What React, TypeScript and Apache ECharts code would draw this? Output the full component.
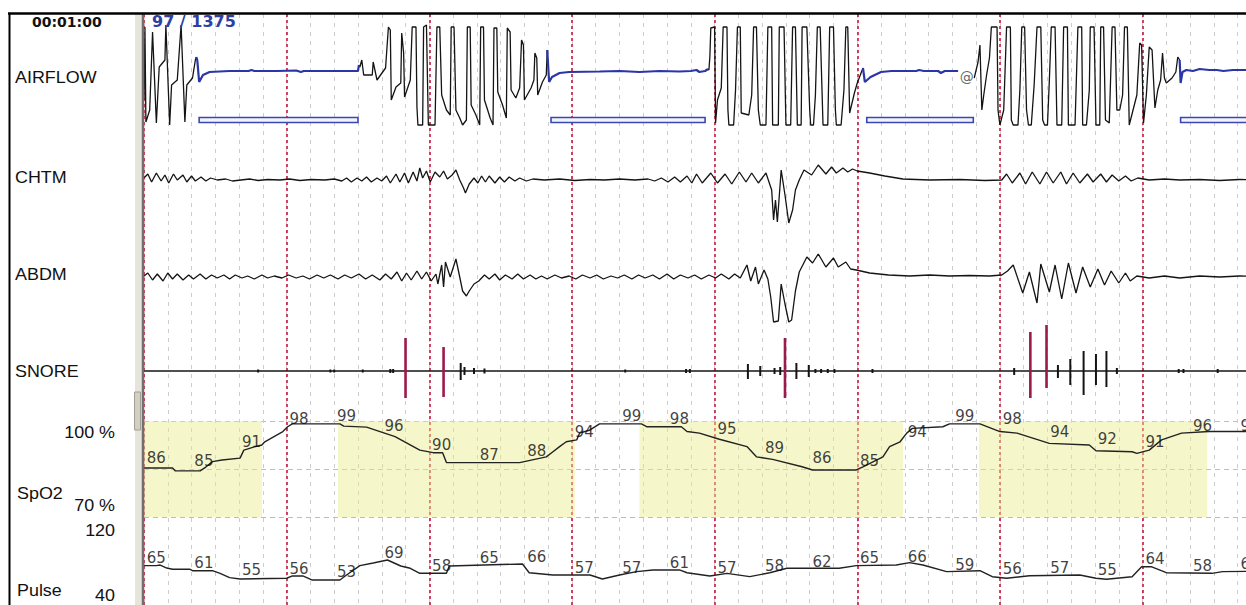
import { useEffect, useRef } from "react";
import * as echarts from "echarts";

// ---------- time base: samples at 5 Hz (0.2 s), 150 samples = one 30 s epoch ----------
const X_END = 1184;
const EPOCH_SAMPLES = 150;
const MINOR_SAMPLES = 25;

// ---------- AIRFLOW (flow units, up = positive) ----------
const airflowBreathA = [[0,-28],[1,45],[2,-50],[6,-38],[9,40],[13,-51],[16,5],[22,12],[23,47],[27,-53],[29,-13],[35,-8],[39,47],[43,-50],[45,-13],[51,-6],[54,12],[55,15]];
const airflowBreathB = [[226,7],[227,5],[229,12],[231,-3],[240,-3],[241,10],[245,-8],[254,4],[257,45],[259,42],[260,-28],[265,-15],[270,-11],[271,39],[273,19],[274,-25],[280,-8],[282,45],[286,45],[287,-35],[288,-53],[293,-53],[294,45],[297,47],[299,-53],[306,-53],[308,45],[311,45],[313,-23],[318,-38],[322,-43],[323,45],[326,45],[328,-38],[332,-46],[335,-53],[339,-48],[340,45],[343,45],[344,-33],[349,-43],[353,-53],[354,45],[357,45],[358,-28],[364,-46],[367,-53],[368,44],[371,44],[372,-20],[377,-33],[381,-46],[382,44],[385,40],[386,-18],[391,-26],[395,-16],[397,32],[399,27],[400,-28],[407,-16],[410,-8],[411,19],[413,14],[414,-23],[419,-10],[423,-3],[424,22]];
const airflowBreathC = [[593,3],[594,2],[595,15],[596,44],[600,45],[601,-51],[603,-28],[607,-16],[609,45],[613,45],[614,-38],[615,-53],[620,-53],[622,-18],[624,45],[627,45],[628,-41],[636,-43],[639,-23],[641,45],[644,45],[646,-38],[648,-53],[654,-53],[656,45],[660,45],[661,-53],[667,-53],[668,45],[673,45],[675,-53],[680,-53],[682,45],[685,45],[687,-53],[691,-53],[692,45],[697,45],[700,-38],[701,-53],[704,-53],[706,-23],[708,45],[711,45],[714,-53],[719,-53],[721,45],[725,45],[727,-38],[728,-53],[733,-53],[736,-18],[738,45],[740,45],[742,-41],[747,-21],[750,-11],[756,4]];
const airflowBreathD = [[873,-6],[877,10],[879,27],[881,-38],[883,-23],[886,-3],[889,14],[891,45],[897,45],[898,-38],[900,-53],[904,-38],[907,45],[911,45],[912,-48],[914,-53],[919,-53],[921,-18],[923,45],[926,45],[928,-38],[930,-53],[933,-53],[936,-13],[939,45],[943,45],[945,-48],[947,-53],[950,-53],[952,-8],[954,45],[958,45],[960,-53],[965,-53],[967,45],[971,45],[972,-53],[979,-53],[982,45],[986,45],[987,-53],[991,-53],[994,-18],[995,45],[999,45],[1001,-53],[1005,-53],[1006,45],[1009,45],[1011,-48],[1015,-51],[1018,45],[1021,45],[1023,-38],[1026,-38],[1029,-23],[1031,45],[1034,45],[1036,-53],[1040,-38],[1044,-23],[1047,29],[1049,27],[1051,-51],[1054,-23],[1057,25],[1060,22],[1063,-36],[1066,-18],[1069,-8],[1071,19],[1073,-6],[1075,-11],[1081,-6],[1085,0],[1087,15],[1089,12]];
const airflowApnea1 = [[55,15],[56,12],[58,-10],[62,-3],[69,0],[90,1],[110,1],[113,2],[116,1],[140,1],[160,1.5],[165,0],[168,1],[190,1],[210,1],[225,1],[226,7]];
const airflowApnea2 = [[424,22],[426,-10],[429,-5],[437,-1],[447,0],[479,0.5],[500,1],[521,0],[542,1],[563,0.5],[575,1],[581,2],[584,0],[590,1],[593,3]];
const airflowApnea3 = [[756,4],[758,-10],[764,-5],[775,0],[786,1],[812,1],[815,2],[820,1],[835,1],[838,-1],[842,1],[856,1]];
const airflowApnea4 = [[1089,12],[1090,-11],[1092,0],[1096,2],[1103,1],[1110,3],[1120,2],[1128,2],[1135,1],[1145,2],[1160,2],[1184,2]];
const apneaEvents = [[58,225],[428,590],[760,872],[1090,1184]];
const apneaEventLevel = [-45.5, -50.5];
const artifactMarks = [[865,-5]];

// ---------- CHTM / ABDM effort ----------
const chtm = [[0,2],[4,6],[8,-2],[13,7],[18,-1],[22,5],[26,-3],[31,6],[35,0],[41,5],[45,-2],[50,4],[54,-1],[60,3],[65,-1],[70,2],[77,0],[86,1],[93,-1],[102,0],[111,1],[120,-0.5],[130,0.5],[143,0],[153,1],[164,-0.5],[176,0.5],[190,0],[200,1],[208,-1],[213,2],[218,-2],[224,2],[229,-1],[234,3],[239,-2],[245,2],[250,-1],[255,4],[259,-3],[265,6],[269,-2],[274,7],[278,-3],[283,8],[287,-1],[290,12],[293,2],[297,9],[301,-2],[306,8],[311,3],[315,9],[319,1],[324,5],[328,10],[332,0],[336,-8],[338,-13],[342,-4],[347,2],[351,-3],[355,4],[359,-2],[363,4],[369,-3],[374,3],[379,-2],[384,3],[390,-1],[395,2],[402,-1],[409,1],[421,0],[437,1],[453,-0.5],[469,0.5],[484,0],[500,1],[516,0],[530,1],[537,-1],[544,2],[551,-2],[558,3],[564,-2],[571,4],[576,-3],[581,6],[587,-3],[596,7],[603,-3],[611,6],[618,-4],[626,8],[633,-2],[639,7],[646,-3],[654,7],[660,-10],[662,-40],[664,-20],[666,-42],[670,10],[674,-15],[678,-43],[682,-30],[685,-10],[689,0],[694,10],[702,5],[709,15],[717,6],[723,13],[728,7],[735,12],[740,8],[745,11],[750,9],[763,7],[779,4],[798,1],[826,0],[858,0.5],[884,-0.5],[902,0],[907,6],[913,-3],[921,7],[927,-4],[934,8],[942,-4],[949,8],[956,-3],[964,8],[970,-4],[977,7],[984,-3],[992,6],[998,-2],[1006,6],[1012,-2],[1018,5],[1025,-1],[1032,4],[1038,-1],[1045,2],[1057,0],[1073,1],[1089,0],[1110,0.5],[1131,-0.5],[1152,0.5],[1184,0]];
const abdm = [[0,1],[4,4],[9,-3],[14,3],[20,-4],[25,4],[30,-2],[35,3],[41,-3],[47,2],[52,-2],[59,3],[65,-2],[71,2],[77,-1],[84,2],[90,-2],[96,2],[103,-1],[109,1],[116,-2],[124,2],[130,-1],[137,1],[145,-1],[152,2],[160,-1],[167,1],[174,-2],[182,2],[189,-1],[196,2],[204,-2],[211,2],[218,-1],[226,3],[233,-2],[240,2],[248,-3],[254,3],[260,-2],[266,5],[271,-4],[276,4],[281,-3],[287,6],[292,-2],[297,5],[302,-4],[307,3],[309,-7],[313,12],[315,-10],[317,15],[322,0],[328,18],[332,0],[335,-14],[339,-19],[342,-14],[347,-7],[352,-4],[358,2],[363,-2],[369,3],[374,-3],[380,2],[387,-2],[393,3],[399,-2],[406,2],[412,-2],[418,1],[424,-2],[432,2],[439,-1],[447,1],[454,-2],[461,2],[469,-1],[476,2],[483,-2],[491,1],[498,-1],[505,2],[513,-2],[520,2],[527,-1],[535,2],[542,-2],[550,3],[557,-2],[564,2],[572,-1],[579,2],[586,-2],[594,2],[601,-1],[607,3],[615,-2],[621,3],[627,-1],[634,12],[638,-4],[643,10],[646,-7],[652,7],[656,-2],[659,-20],[662,-45],[667,-44],[670,-7],[674,-27],[678,-45],[681,-43],[685,-14],[689,5],[697,20],[703,14],[709,23],[717,10],[725,19],[730,10],[738,15],[743,8],[749,7],[763,4],[783,2],[805,1],[826,2],[847,1],[868,1.5],[889,1],[902,2],[908,6],[914,12],[924,-16],[931,5],[939,-26],[943,13],[952,-15],[958,12],[965,-22],[972,14],[980,-16],[987,10],[995,-10],[1003,8],[1010,-8],[1017,6],[1025,-6],[1032,4],[1037,-4],[1044,1],[1057,-1],[1073,1],[1089,-1],[1110,1],[1131,0],[1152,1],[1184,0]];

// ---------- SNORE bursts: [sample, low, high] ----------
const snoreBursts = [[120,-1.5,1.5],[196,-1.5,1.5],[200,-1.5,1.5],[230,-1.5,1.5],[259,-2,2],[262,-2,2],[333,-9,8],[337,-4,4],[347,-3,3],[358,-2.5,2.5],[506,-1.5,1.5],[570,-2,2],[574,-2,2],[635,-8,7],[648,-5,5],[663,-3,3],[669,-4,4],[686,-8,8],[699,-6,6],[706,-2,2],[712,-2,2],[719,-2,2],[726,-2,2],[766,-2,2],[915,-4,3],[961,-7,6],[974,-14,12],[988,-24,20],[1001,-14,17],[1012,-16,20],[1023,-3,3],[1088,-2,2],[1093,-2,2],[1129,-2,2]];
const snoreArousals = [[275,-27,33],[315,-26,24],[674,-27,33],[932,-27,39],[949,-17,46]];

// ---------- SpO2 (%) ----------
const spo2 = [[0,85.3],[30,85.3],[33,84.4],[59,84.4],[65,85.6],[72,87.3],[82,87.8],[101,88.4],[105,90.9],[116,91.9],[124,92.5],[127,93.5],[146,96.7],[151,98.2],[156,99.1],[206,99.1],[210,98.4],[234,98.1],[264,95.1],[290,90.9],[304,90.1],[314,90.1],[318,87],[395,87],[423,88.8],[430,90.4],[437,92],[444,93.5],[455,94.1],[458,96.2],[469,97.2],[479,99.1],[523,99.1],[529,98.2],[565,98.2],[571,96.7],[584,96.2],[605,94.3],[634,92],[644,88.8],[661,88],[692,85.7],[703,84.7],[749,84.7],[756,85.7],[777,88.8],[784,92],[795,93.5],[802,96.2],[808,97.7],[840,98.2],[847,99.1],[879,99.1],[900,96.7],[918,96.2],[952,93],[994,92.5],[1001,90.7],[1039,90.4],[1044,89.9],[1057,90.9],[1070,94.1],[1091,96.2],[1120,96.7],[1184,96.7]];
const desatEvents = [[0,124],[204,453],[521,798],[878,1118]];

// ---------- Pulse (bpm) ----------
const pulse = [[0,65.3],[13,65.3],[17,65.8],[24,63.3],[30,62.3],[48,62.3],[51,61.1],[72,61.1],[80,58.9],[90,55.3],[101,54.2],[150,54.8],[156,56.7],[167,56.7],[177,53.3],[206,53.3],[213,57.5],[227,65.3],[241,67.5],[256,70],[270,65],[280,63.1],[290,58.9],[318,58.9],[321,65],[398,66.7],[405,59.4],[430,57.5],[469,57.5],[482,54.2],[500,57.5],[518,60.3],[535,61.7],[563,61.7],[571,59.4],[595,56.7],[613,58.9],[637,56.1],[658,59.4],[676,63.1],[731,63.1],[749,65.3],[791,65.8],[805,67.8],[819,65.8],[844,60.3],[879,61.1],[892,56.1],[907,54.8],[931,56.9],[984,57.5],[1001,54.8],[1012,53.9],[1039,56.1],[1049,64.4],[1059,64.4],[1075,59.4],[1123,58.9],[1134,60.3],[1184,60.8]];

// ---------- value annotations every 10 s ----------
const annotationTimes = [13,63,113,163,213,263,313,363,413,463,513,563,613,663,713,763,813,863,913,963,1013,1063,1113,1163];
const spo2Annotations = [86,85,91,98,99,96,90,87,88,94,99,98,95,89,86,85,94,99,98,94,92,91,96,96];
const pulseAnnotations = [65,61,55,56,53,69,58,65,66,57,57,61,57,58,62,65,66,59,56,57,55,64,58,60];

// ---------- styling ----------
const LABEL_FONT = '"Liberation Sans", Arial, sans-serif';
const TRACE = "#141414";
const BLUE = "#2a36a6";
const MAROON = "#9c1a4a";

export default function App() {
  const ref = useRef<HTMLDivElement>(null);

  useEffect(() => {
    if (!ref.current) return;
    const chart = echarts.init(ref.current, undefined, { renderer: "svg" });

    const gridBox = (top: number, height: number) => ({ left: 144, top, width: 1126, height });
    const hiddenX = (gridIndex: number) => ({ gridIndex, type: "value", min: 0, max: X_END, show: false });
    const hiddenY = (gridIndex: number, min: number, max: number) => ({ gridIndex, type: "value", min, max, show: false });
    const line = (data: number[][], xi: number, yi: number, color: string, width: number, extra: any = {}) => ({
      type: "line", xAxisIndex: xi, yAxisIndex: yi, data, symbol: "none", showSymbol: false, silent: true,
      lineStyle: { color, width }, z: 3, ...extra,
    });
    const vbars = (data: number[][], color: string, width: number) => ({
      type: "custom", xAxisIndex: 5, yAxisIndex: 4, data, silent: true, z: 4,
      encode: { x: 0, y: [1, 2] },
      renderItem: (_p: any, api: any) => {
        const a = api.coord([api.value(0), api.value(2)]);
        const b = api.coord([api.value(0), api.value(1)]);
        return { type: "line", shape: { x1: a[0], y1: a[1], x2: b[0], y2: b[1] }, style: { stroke: color, lineWidth: width } };
      },
    });
    const annot = (values: number[], xi: number, yi: number) => ({
      type: "scatter", xAxisIndex: xi, yAxisIndex: yi, symbolSize: 1, silent: true, z: 5,
      itemStyle: { color: "rgba(0,0,0,0)" },
      data: annotationTimes.map((t, i) => [t, values[i]]),
      label: {
        show: true, position: "top", distance: 0, color: "#0d0d0d",
        fontFamily: '"DejaVu Sans", sans-serif', fontSize: 15,
        formatter: (p: any) => String(p.value[1]),
      },
    });
    const text = (t: string, x: number, y: number, font: string, align = "left", fill = "#111", scaleX = 1.12) => ({
      type: "text", x, y, scaleX, z: 50, silent: true,
      style: { text: t, font, fill, textAlign: align, textVerticalAlign: "middle", align, verticalAlign: "middle" },
    });
    const f16 = `16px ${LABEL_FONT}`;

    chart.setOption({
      animation: false,
      backgroundColor: "#ffffff",
      grid: [
        gridBox(14, 591),
        gridBox(17, 110),
        gridBox(140, 90),
        gridBox(237, 95),
        gridBox(321, 90),
        gridBox(421, 96),
        gridBox(500, 96),
      ],
      xAxis: [
        {
          gridIndex: 0, type: "value", min: 0, max: X_END, interval: MINOR_SAMPLES,
          axisLine: { show: false }, axisTick: { show: false }, axisLabel: { show: false },
          splitLine: { show: true, lineStyle: { color: "#cdcdcd", width: 1, type: [4, 5] } },
        },
        {
          gridIndex: 0, type: "value", position: "top", min: 0, max: X_END, interval: EPOCH_SAMPLES, z: 1,
          axisLine: { show: false }, axisTick: { show: false }, axisLabel: { show: false },
          splitLine: { show: true, lineStyle: { color: "#c4173d", width: 1.6, type: [3, 3] } },
        },
        hiddenX(1), hiddenX(2), hiddenX(3), hiddenX(4), hiddenX(5), hiddenX(6),
      ],
      yAxis: [
        hiddenY(0, 0, 1),
        hiddenY(1, -55, 55),
        hiddenY(2, -50, 40),
        hiddenY(3, -55, 40),
        hiddenY(4, -40, 50),
        {
          gridIndex: 5, type: "value", min: 70, max: 100, interval: 15,
          axisLine: { show: false }, axisTick: { show: false }, axisLabel: { show: false },
          splitLine: { show: true, lineStyle: { color: ["#bcbcbc", "#a9d09a", "#a9d09a"], width: 1, type: [5, 4] } },
        },
        hiddenY(6, 40, 120),
      ],
      series: [
        line(airflowBreathA, 2, 1, TRACE, 1.3),
        line(airflowBreathB, 2, 1, TRACE, 1.3),
        line(airflowBreathC, 2, 1, TRACE, 1.3),
        line(airflowBreathD, 2, 1, TRACE, 1.3),
        line(airflowApnea1, 2, 1, BLUE, 2.2, {
          markArea: {
            silent: true,
            itemStyle: { color: "#f3f3fb", borderColor: "#3a48b4", borderWidth: 1.6 },
            label: { show: false },
            data: apneaEvents.map(([a, b]) => [{ coord: [a, apneaEventLevel[0]] }, { coord: [b, apneaEventLevel[1]] }]),
          },
        }),
        line(airflowApnea2, 2, 1, BLUE, 2.2),
        line(airflowApnea3, 2, 1, BLUE, 2.2),
        line(airflowApnea4, 2, 1, BLUE, 2.2),
        {
          type: "scatter", xAxisIndex: 2, yAxisIndex: 1, symbolSize: 1, silent: true, z: 5,
          itemStyle: { color: "rgba(0,0,0,0)" }, data: artifactMarks,
          label: { show: true, position: "inside", formatter: "@", color: "#3a3a3a", fontSize: 14, fontFamily: '"DejaVu Sans", sans-serif' },
        },
        line(chtm, 3, 2, TRACE, 1.3),
        line(abdm, 4, 3, TRACE, 1.3),
        line([[0, 0], [X_END, 0]], 5, 4, TRACE, 1.3),
        vbars(snoreBursts, TRACE, 2),
        vbars(snoreArousals, MAROON, 2.6),
        line(spo2, 6, 5, "#222", 1.4, {
          markArea: {
            silent: true,
            itemStyle: { color: "rgba(236,236,140,0.45)" },
            label: { show: false },
            data: desatEvents.map(([a, b]) => [{ xAxis: a }, { xAxis: b }]),
          },
        }),
        annot(spo2Annotations, 6, 5),
        line(pulse, 7, 6, "#222", 1.4),
        annot(pulseAnnotations, 7, 6),
      ],
      graphic: [
        { type: "rect", z: 40, silent: true, shape: { x: 135, y: 13, width: 7, height: 592 }, style: { fill: "#e7e4dc" } },
        { type: "rect", z: 41, silent: true, shape: { x: 134.5, y: 392, width: 6, height: 38 }, style: { fill: "#d3cfc4", stroke: "#a29e94", lineWidth: 1 } },
        { type: "line", z: 42, silent: true, shape: { x1: 143, y1: 13, x2: 143, y2: 605 }, style: { stroke: "#6f6f6f", lineWidth: 2.5 } },
        { type: "line", z: 42, silent: true, shape: { x1: 9.5, y1: 13, x2: 9.5, y2: 605 }, style: { stroke: "#000", lineWidth: 2 } },
        { type: "line", z: 42, silent: true, shape: { x1: 8, y1: 13.5, x2: 1270, y2: 13.5 }, style: { stroke: "#000", lineWidth: 2.5 } },
        text("00:01:00", 32, 22, `bold 14px "DejaVu Sans", sans-serif`, "left", "#111", 1),
        text("97 / 1375", 152, 21, `bold 16px "DejaVu Sans", sans-serif`, "left", "#2f3ea3", 1),
        text("AIRFLOW", 15, 78, f16),
        text("CHTM", 15, 178, f16),
        text("ABDM", 15, 275, f16),
        text("SNORE", 15, 372, f16),
        text("100 %", 115, 433, f16, "right"),
        text("SpO2", 17, 494, f16),
        text("70 %", 115, 506, f16, "right"),
        text("120", 115, 531, f16, "right"),
        text("Pulse", 17, 591, f16),
        text("40", 115, 596, f16, "right"),
      ],
    });

    return () => chart.dispose();
  }, []);

  return (
    <div style={{ position: "fixed", left: 0, top: 0, width: 1246, height: 605, overflow: "hidden", background: "#fff" }}>
      <div ref={ref} style={{ width: 1270, height: 605 }} />
    </div>
  );
}
